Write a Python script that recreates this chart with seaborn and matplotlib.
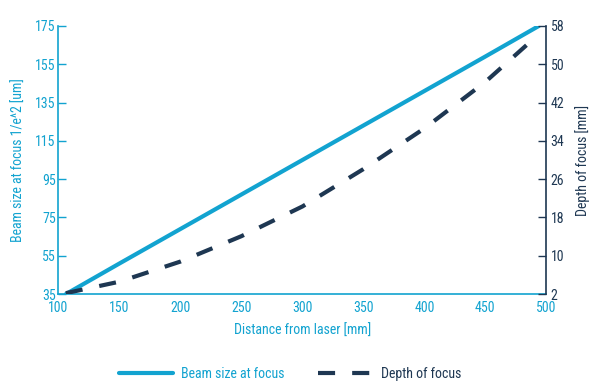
import numpy as np
import pandas as pd
import seaborn as sns
import matplotlib.pyplot as plt
from matplotlib.lines import Line2D

# ── Data ─────────────────────────────────────────────────────────────
distance = [106, 150, 200, 250, 300, 350, 400, 450, 494]
beam_size = [35, 51, 69, 87, 105, 123, 141, 159, 175]
depth_focus = [2.2, 4.6, 8.8, 14.1, 20.3, 28.1, 36.6, 46.3, 56.3]

x_ticks = [100, 150, 200, 250, 300, 350, 400, 450, 500]
left_ticks = [35, 55, 75, 95, 115, 135, 155, 175]
right_ticks = [2, 10, 18, 26, 34, 42, 50, 58]

CYAN = "#12a3d0"
NAVY = "#1e3752"

sns.set_theme(style="white")
plt.rcParams['font.family'] = ['Roboto Condensed', 'Roboto', 'DejaVu Sans']
plt.rcParams['font.stretch'] = 'condensed'

df = pd.DataFrame({"distance": distance, "beam": beam_size, "depth": depth_focus})

fig = plt.figure(figsize=(6.03, 3.86), dpi=100)
ax = fig.add_axes([0.097, 0.238, 0.809, 0.695])
ax2 = ax.twinx()

sns.lineplot(data=df, x="distance", y="beam", ax=ax, color=CYAN, lw=3)
sns.lineplot(data=df, x="distance", y="depth", ax=ax2, color=NAVY, lw=3)
ax2.lines[0].set_dashes((4.1, 4.1))

ax.set_xlim(100, 500)
ax.set_ylim(35, 175)
ax2.set_ylim(2, 58)
ax.set_xticks(x_ticks)
ax.set_yticks(left_ticks)
ax2.set_yticks(right_ticks)

fs = 10
ax.set_xlabel("Distance from laser [mm]", color=CYAN, fontsize=fs, labelpad=6)
ax.set_ylabel("Beam size at focus 1/e^2 [um]", color=CYAN, fontsize=fs, labelpad=7)
ax2.set_ylabel("Depth of focus [mm]", color=NAVY, fontsize=fs, labelpad=8)

for a in (ax, ax2):
    a.spines['top'].set_visible(False)
    a.grid(False)
ax.spines['left'].set_color(CYAN)
ax.spines['bottom'].set_color(CYAN)
ax.spines['right'].set_visible(False)
ax2.spines['left'].set_visible(False)
ax2.spines['bottom'].set_visible(False)
ax2.spines['right'].set_color(NAVY)
for sp in ('left', 'bottom'):
    ax.spines[sp].set_linewidth(1.2)
ax2.spines['right'].set_linewidth(1.2)

ax.tick_params(axis='x', direction='in', length=6, width=1, colors=CYAN, labelsize=fs, pad=5)
ax.tick_params(axis='y', direction='in', length=6, width=1, colors=CYAN, labelsize=fs, pad=2)
ax2.tick_params(axis='y', direction='in', length=6, width=1, colors=NAVY, labelsize=fs, pad=3)

handles = [
    Line2D([], [], color=CYAN, lw=3),
    Line2D([], [], color=NAVY, lw=3, dashes=(4.1, 4.1)),
]
fig.legend(handles, ["Beam size at focus", "Depth of focus"], loc='center',
           bbox_to_anchor=(0.481, 0.031), ncol=2, frameon=False, fontsize=fs,
           handlelength=3.9, handletextpad=0.6, columnspacing=2.4,
           labelcolor=[CYAN, NAVY])

fig.savefig("out.png", dpi=100)
